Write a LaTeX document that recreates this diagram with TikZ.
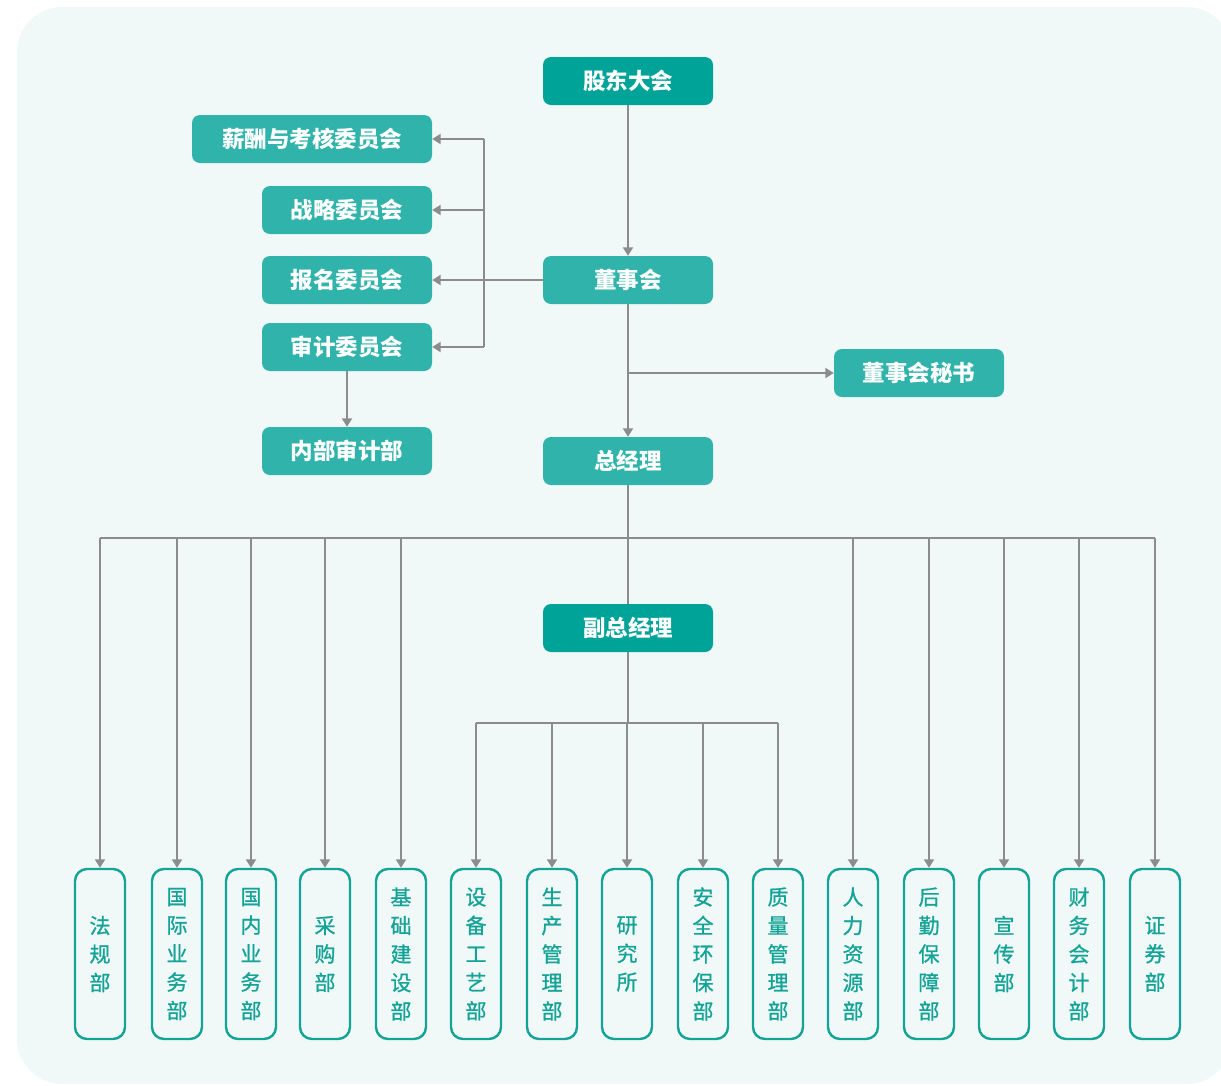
\documentclass[tikz,border=0pt]{standalone}
\usepackage{fontspec}
\usetikzlibrary{arrows.meta}
\newfontfamily\cjk{Noto Sans CJK SC}
\newfontfamily\cjkm[FakeBold=0.9]{Noto Sans CJK SC}
\definecolor{bgc}{HTML}{F1F9F8}
\definecolor{tealD}{HTML}{00A398}
\definecolor{tealL}{HTML}{30B3AA}
\definecolor{tealB}{HTML}{14A397}
\definecolor{lgray}{HTML}{8C8C8C}
\tikzset{
  topbox/.style={rectangle, rounded corners=8pt, fill=tealL, text=white, minimum width=170pt, minimum height=48pt, inner sep=0pt, font=\cjk\bfseries\fontsize{22.5}{25}\selectfont},
  darkbox/.style={topbox, fill=tealD},
  dept/.style={rectangle, rounded corners=12pt, draw=tealB, line width=2.4pt, fill=bgc, minimum width=50pt, minimum height=170pt, inner sep=0pt, text=tealB, align=center, font=\cjkm\fontsize{21}{28.5}\selectfont},
  conn/.style={draw=lgray, line width=2pt},
  arr/.style={conn, -{Triangle[width=10pt,length=8.5pt]}}
}
\begin{document}
\begin{tikzpicture}[x=1pt,y=-1pt]
\useasboundingbox (0,0) rectangle (1221,1085);
\clip (0,0) rectangle (1221,1085);
\fill[bgc, rounded corners=45pt] (17,7) rectangle (1232,1084);

% top nodes
\node[darkbox] (gd) at (628,81) {股东大会};
\node[topbox] (dsh) at (628,280) {董事会};
\node[topbox, minimum width=240pt] (xc) at (312,139) {薪酬与考核委员会};
\node[topbox] (zl) at (347,210) {战略委员会};
\node[topbox] (bm) at (347,280) {报名委员会};
\node[topbox] (sj) at (347,347) {审计委员会};
\node[topbox] (nb) at (347,451) {内部审计部};
\node[topbox] (ms) at (919,373) {董事会秘书};
\node[topbox] (zjl) at (628,461) {总经理};
\node[darkbox] (fzjl) at (628,628) {副总经理};

% departments
\node[dept] (d1) at (100,954) {法\\规\\部};
\node[dept] (d2) at (177,954) {国\\际\\业\\务\\部};
\node[dept] (d3) at (251,954) {国\\内\\业\\务\\部};
\node[dept] (d4) at (325,954) {采\\购\\部};
\node[dept] (d5) at (401,954) {基\\础\\建\\设\\部};
\node[dept] (d6) at (476,954) {设\\备\\工\\艺\\部};
\node[dept] (d7) at (552,954) {生\\产\\管\\理\\部};
\node[dept] (d8) at (627,954) {研\\究\\所};
\node[dept] (d9) at (703,954) {安\\全\\环\\保\\部};
\node[dept] (d10) at (778,954) {质\\量\\管\\理\\部};
\node[dept] (d11) at (853,954) {人\\力\\资\\源\\部};
\node[dept] (d12) at (929,954) {后\\勤\\保\\障\\部};
\node[dept] (d13) at (1004,954) {宣\\传\\部};
\node[dept] (d14) at (1079,954) {财\\务\\会\\计\\部};
\node[dept] (d15) at (1155,954) {证\\券\\部};

% coordinates
\coordinate (busL) at (484,0);
\coordinate (bus) at (0,538);
\coordinate (sub) at (0,723);

% connectors
\draw[arr] (gd) -- (dsh);
\draw[conn] (dsh.west) -- (busL |- dsh.west);
\draw[conn] (busL |- xc.east) -- (busL |- sj.east);
\foreach \n in {xc,zl,bm,sj} \draw[arr] (busL |- \n.east) -- (\n.east);
\draw[arr] (sj) -- (nb);
\draw[arr] (dsh) -- (zjl);
\draw[arr] (dsh.south |- ms.west) -- (ms.west);
\draw[conn] (zjl) -- (fzjl);
\draw[conn] (d1.north |- bus) -- (d15.north |- bus);
\foreach \n in {d1,d2,d3,d4,d5,d11,d12,d13,d14,d15} \draw[arr] (\n.north |- bus) -- (\n.north);
\draw[conn] (fzjl.south) -- (fzjl.south |- sub);
\draw[conn] (d6.north |- sub) -- (d10.north |- sub);
\foreach \n in {d6,d7,d8,d9,d10} \draw[arr] (\n.north |- sub) -- (\n.north);
\end{tikzpicture}
\end{document}
